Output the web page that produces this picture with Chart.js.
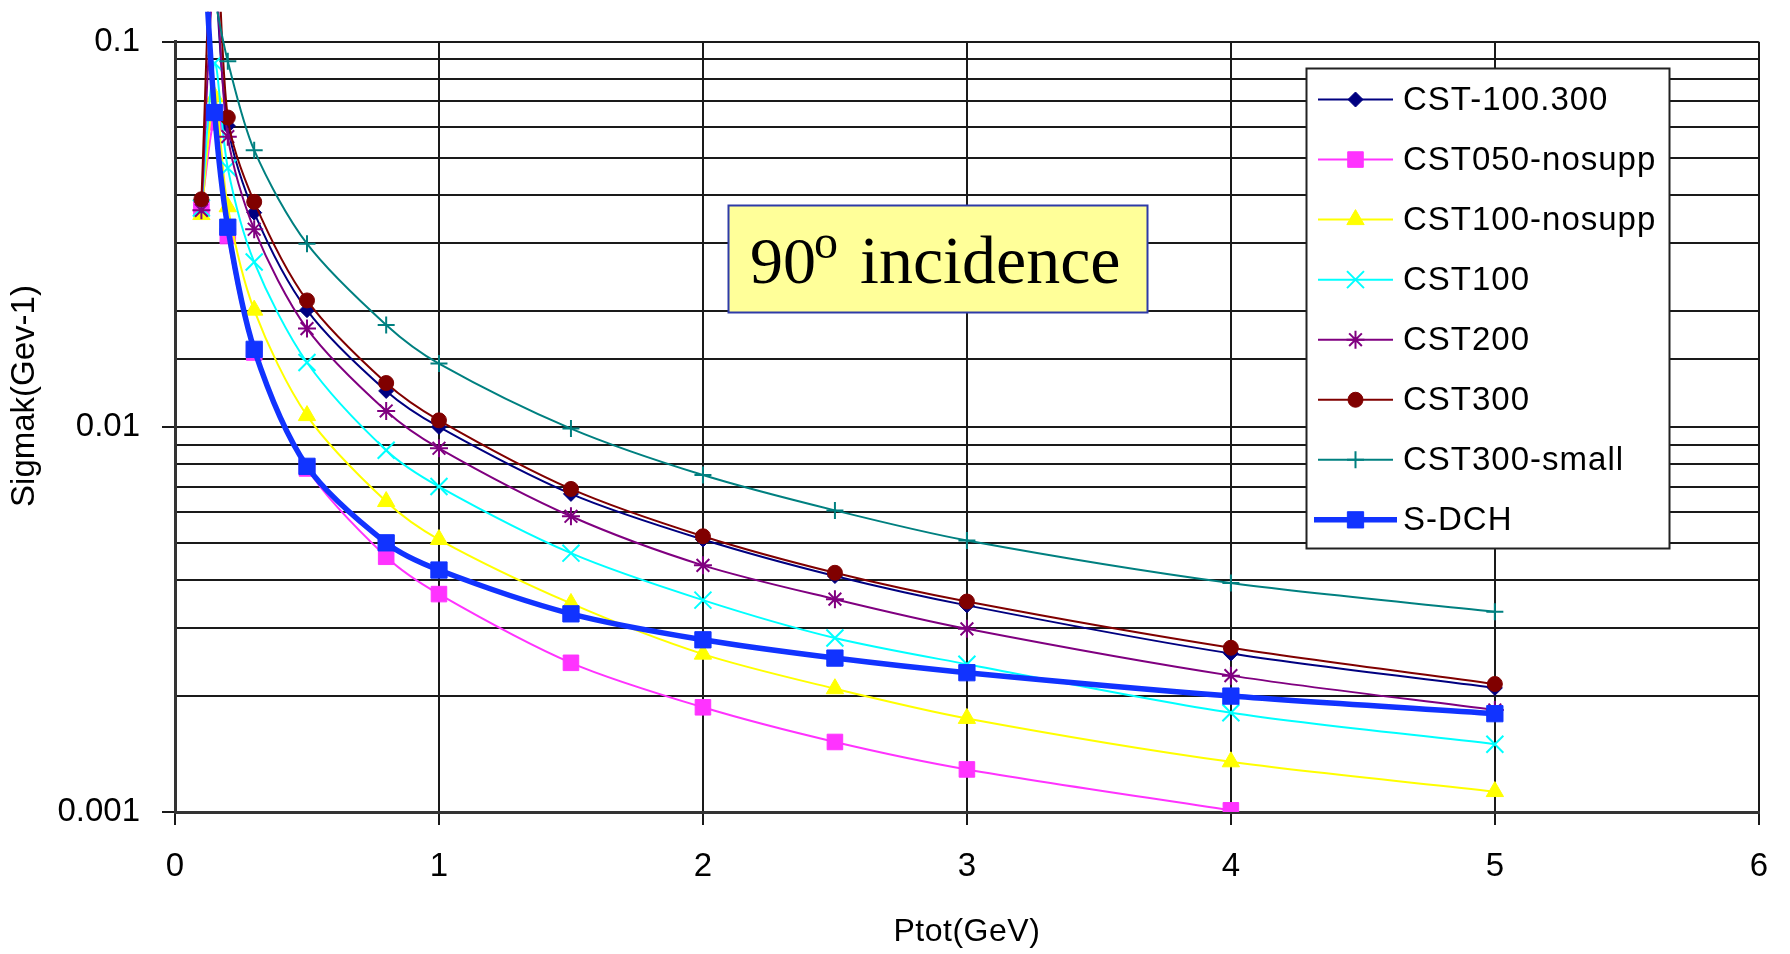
<!DOCTYPE html>
<html>
<head>
<meta charset="utf-8">
<script src="https://cdn.jsdelivr.net/npm/chart.js@4.4.1/dist/chart.umd.min.js"></script>
<style>
  html, body { margin: 0; padding: 0; background: #ffffff; }
  canvas { display: block; }
</style>
</head>
<body>
<canvas id="chart" width="1790" height="954"></canvas>
<script>
// Momentum points (GeV) shared by all series
const momentum = [0.1, 0.15, 0.2, 0.3, 0.5, 0.8, 1, 1.5, 2, 2.5, 3, 4, 5];

// Momentum resolution sigma_k (GeV^-1) per detector configuration
const cst100_300   = [null,   0.16,   0.0605, 0.0360, 0.0201, 0.0124, 0.0100, 0.0067,  0.0051,  0.0041,  0.00344, 0.00258, 0.00210];
const cst050NoSupp = [0.0370, 0.0618, 0.0313, 0.0156, 0.0078, 0.0046, 0.00368, 0.00244, 0.00187, 0.00152, 0.00129, 0.00101, null];
const cst100NoSupp = [0.0356, 0.0720, 0.0373, 0.0201, 0.0107, 0.0064, 0.0051, 0.00348, 0.00257, 0.00209, 0.00175, 0.00135, 0.00113];
const cst100       = [0.0370, 0.0880, 0.0470, 0.0268, 0.0147, 0.0087, 0.0070, 0.0047,  0.00355, 0.00283, 0.00242, 0.00181, 0.00150];
const cst200       = [0.0365, 0.15,   0.0567, 0.0326, 0.0180, 0.0110, 0.0088, 0.00586, 0.00437, 0.00357, 0.00299, 0.00226, 0.00184];
const cst300       = [0.0390, 0.25,   0.0636, 0.0384, 0.0213, 0.0130, 0.0104, 0.0069,  0.0052,  0.00418, 0.00352, 0.00267, 0.00215];
const cst300Small  = [null,   0.13,   0.0890, 0.0523, 0.0299, 0.0184, 0.0146, 0.0099,  0.0075,  0.00607, 0.00507, 0.00393, 0.00331];
const sDch         = [0.23,   0.0655, 0.0330, 0.0159, 0.0079, 0.0050, 0.00425, 0.00327, 0.0028,  0.00251, 0.0023,  0.0020,  0.0018];

const seriesNames = ['CST-100.300', 'CST050-nosupp', 'CST100-nosupp', 'CST100', 'CST200', 'CST300', 'CST300-small', 'S-DCH'];
const seriesValues = [cst100_300, cst050NoSupp, cst100NoSupp, cst100, cst200, cst300, cst300Small, sDch];

const xTickLabels = ['0', '1', '2', '3', '4', '5', '6'];
const yTickValues = [0.001, 0.01, 0.1];
const yTickLabels = ['0.001', '0.01', '0.1'];

const xTitle = 'Ptot(GeV)';
const yTitle = 'Sigmak(Gev-1)';
const noteText = 'incidence';
const noteAngle = '90';

// Visual style per series (same order as seriesNames)
const seriesStyles = [
  { color: '#000080', pointStyle: 'rectRot',  radius: 7.5, lineWidth: 2,   pointBorderWidth: 1 },
  { color: '#FF33FF', pointStyle: 'rect',     radius: 11,  lineWidth: 2,   pointBorderWidth: 1 },
  { color: '#FFFF00', pointStyle: 'triangle', radius: 10,  lineWidth: 2,   pointBorderWidth: 1 },
  { color: '#00FFFF', pointStyle: 'crossRot', radius: 12,  lineWidth: 2,   pointBorderWidth: 2 },
  { color: '#800080', pointStyle: 'star',     radius: 9,   lineWidth: 2,   pointBorderWidth: 2 },
  { color: '#800000', pointStyle: 'circle',   radius: 7.5, lineWidth: 2,   pointBorderWidth: 1 },
  { color: '#008080', pointStyle: 'cross',    radius: 8.5, lineWidth: 2,   pointBorderWidth: 2 },
  { color: '#1133FF', pointStyle: 'rect',     radius: 11.5,lineWidth: 5.5, pointBorderWidth: 1 }
];

const FONT = "'Liberation Sans', Arial, Helvetica, sans-serif";
Chart.defaults.font.family = FONT;
Chart.defaults.color = '#000000';

const datasets = seriesNames.map((name, i) => {
  const st = seriesStyles[i];
  return {
    label: name,
    data: momentum.map((x, k) => ({ x: x, y: seriesValues[i][k] })).filter(p => p.y !== null),
    borderColor: st.color,
    backgroundColor: st.color,
    borderWidth: st.lineWidth,
    pointStyle: st.pointStyle,
    pointRadius: st.radius,
    pointBorderWidth: st.pointBorderWidth,
    pointBackgroundColor: st.color,
    pointBorderColor: st.color,
    tension: 0.3,
    cubicInterpolationMode: 'default',
    clip: { left: 20, top: 30, right: 0, bottom: 0 },
    order: seriesNames.length - i
  };
});

function isDecade(v) {
  return yTickValues.findIndex(t => Math.abs(v / t - 1) < 1e-6);
}

// Legend box, axis titles and the incidence note
const overlay = {
  id: 'overlay',
  afterDraw(chart) {
    const ctx = chart.ctx;
    const area = chart.chartArea;
    ctx.save();

    // Axis titles
    ctx.fillStyle = '#000000';
    ctx.textAlign = 'center';
    ctx.textBaseline = 'middle';
    ctx.font = '32px ' + FONT;
    ctx.letterSpacing = '0.5px';
    ctx.fillText(xTitle, (area.left + area.right) / 2, 932);
    ctx.save();
    ctx.translate(25, 396);
    ctx.rotate(-Math.PI / 2);
    ctx.font = '33px ' + FONT;
    ctx.letterSpacing = '0px';
    ctx.fillText(yTitle, 0, 0);
    ctx.restore();

    // Incidence note
    ctx.letterSpacing = '0px';
    ctx.fillStyle = '#FFFF99';
    ctx.fillRect(728.5, 205.5, 419, 107);
    ctx.strokeStyle = '#2E3BA8';
    ctx.lineWidth = 2;
    ctx.strokeRect(728.5, 205.5, 419, 107);
    ctx.fillStyle = '#000000';
    ctx.textAlign = 'left';
    ctx.textBaseline = 'alphabetic';
    ctx.font = "66px 'Liberation Serif', 'Times New Roman', serif";
    ctx.fillText(noteAngle, 750, 283);
    let x = 750 + ctx.measureText(noteAngle).width - 2;
    ctx.font = "48px 'Liberation Serif', 'Times New Roman', serif";
    ctx.fillText('o', x, 258);
    x += ctx.measureText('o').width + 22;
    ctx.font = "68px 'Liberation Serif', 'Times New Roman', serif";
    ctx.fillText(noteText, x, 283);

    // Legend
    const box = { left: 1306.5, top: 68.5, width: 363, height: 480 };
    ctx.fillStyle = '#ffffff';
    ctx.fillRect(box.left, box.top, box.width, box.height);
    ctx.strokeStyle = '#222222';
    ctx.lineWidth = 2;
    ctx.strokeRect(box.left, box.top, box.width, box.height);

    chart.data.datasets.forEach((ds, i) => {
      const st = seriesStyles[i];
      const y = 99.5 + i * 60.05;
      const thick = st.lineWidth > 3;
      ctx.strokeStyle = st.color;
      ctx.lineWidth = st.lineWidth;
      ctx.beginPath();
      ctx.moveTo(thick ? 1314 : 1318, y);
      ctx.lineTo(thick ? 1397 : 1393, y);
      ctx.stroke();
      ctx.fillStyle = st.color;
      ctx.lineWidth = st.pointBorderWidth;
      Chart.helpers.drawPoint(ctx, {
        pointStyle: st.pointStyle,
        radius: st.radius,
        rotation: 0,
        borderWidth: st.pointBorderWidth
      }, 1355.5, y);
      ctx.fillStyle = '#000000';
      ctx.textAlign = 'left';
      ctx.textBaseline = 'middle';
      ctx.font = '33px ' + FONT;
      ctx.letterSpacing = '1px';
      ctx.fillText(ds.label, 1403, y + 1);
    });

    ctx.restore();
  }
};

new Chart(document.getElementById('chart'), {
  type: 'line',
  data: { datasets: datasets },
  options: {
    responsive: false,
    animation: false,
    events: [],
    layout: { padding: { top: 22, right: 12, left: 0, bottom: 0 } },
    elements: { line: { capBezierPoints: false } },
    plugins: {
      legend: { display: false },
      tooltip: { enabled: false },
      title: { display: false }
    },
    scales: {
      x: {
        type: 'linear',
        min: 0,
        max: 6,
        afterFit(scale) { scale.height = 142; },
        ticks: {
          stepSize: 1,
          autoSkip: false,
          maxRotation: 0,
          padding: 22,
          color: '#000000',
          font: { size: 33 },
          callback: (v) => xTickLabels[Math.round(v)]
        },
        grid: {
          color: '#1a1a1a',
          lineWidth: 2,
          tickLength: 13,
          tickColor: '#1a1a1a',
          tickWidth: 2
        },
        border: { display: true, color: '#333333', width: 3 }
      },
      y: {
        type: 'logarithmic',
        min: 0.001,
        max: 0.1,
        afterFit(scale) { scale.width = 175; },
        ticks: {
          autoSkip: false,
          padding: 22,
          color: '#000000',
          font: { size: 33 },
          callback: (v) => {
            const k = isDecade(v);
            return k >= 0 ? yTickLabels[k] : '';
          }
        },
        grid: {
          color: '#1a1a1a',
          lineWidth: 2,
          tickLength: 13,
          tickWidth: 2,
          tickColor: (c) => (c.tick && isDecade(c.tick.value) >= 0) ? '#1a1a1a' : 'rgba(0,0,0,0)'
        },
        border: { display: true, color: '#333333', width: 3 }
      }
    }
  },
  plugins: [overlay]
});
</script>
</body>
</html>
